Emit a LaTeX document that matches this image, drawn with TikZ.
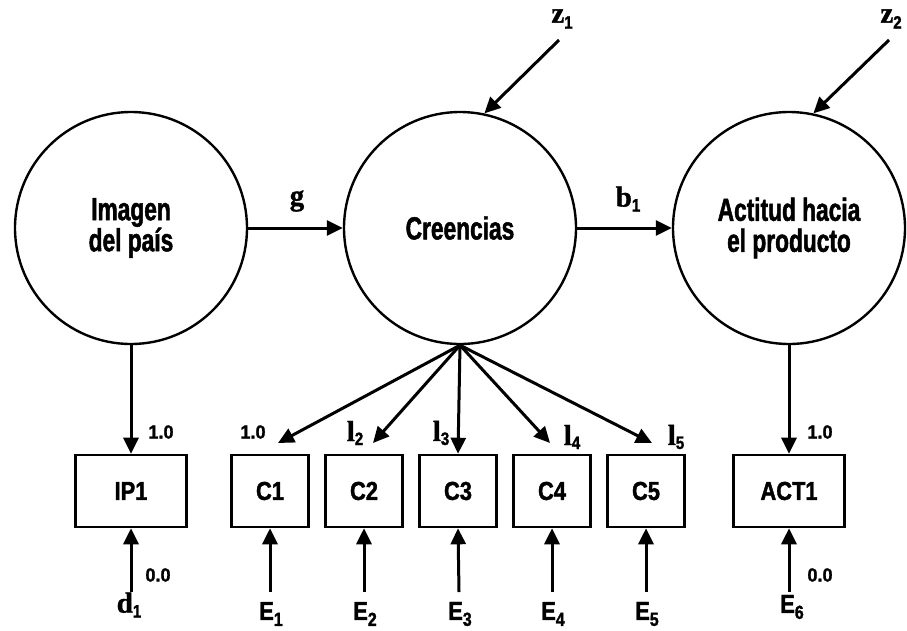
\documentclass[tikz,border=0pt]{standalone}
\usepackage{fontspec}
\setmainfont{Liberation Sans}[FakeStretch=0.84, FakeBold=1.5]
\newfontfamily\condsans{Liberation Sans}[FakeStretch=0.71, FakeBold=1.5]
\newfontfamily\numsans{Liberation Sans}[FakeStretch=0.95, FakeBold=1.2]
\newfontfamily\grk{Liberation Serif}[FakeBold=1.2]
\usetikzlibrary{arrows.meta}

% lowered index set in the condensed sans face
\newcommand\lowidx[3]{\raisebox{-#2pt}{\fontsize{#1}{#1}\rmfamily\bfseries #3}}

\tikzset{
  x=1pt, y=-1pt,
  latent/.style={circle, draw, line width=2.4pt, minimum size=232pt, inner sep=0pt,
                 align=center, font=\fontsize{32}{31}\condsans\bfseries},
  obs/.style={rectangle, draw, line width=2.6pt, minimum height=72pt, inner sep=0pt,
              font=\fontsize{26}{26}\selectfont\bfseries},
  path/.style={line width=3pt, -{Triangle[length=16pt,width=15pt]}},
  coef/.style={inner sep=0pt, font=\fontsize{19}{19}\numsans\bfseries},
  grklab/.style={inner sep=0pt, font=\fontsize{29}{29}\grk\bfseries},
  errlab/.style={inner sep=0pt, font=\fontsize{26}{26}\selectfont\bfseries},
}

\begin{document}
\begin{tikzpicture}
\useasboundingbox (0,0) rectangle (907,630);

% latent constructs
\node[latent] (img) at (131,228) {Imagen\\del país};
\node[latent] (cre) at (460,228) {Creencias};
\node[latent] (act) at (789,228) {Actitud hacia\\el producto};

% indicators
\node[obs, minimum width=111pt] (ip1) at (131,491) {IP1};
\node[obs, minimum width=77pt] (c1) at (270,491) {C1};
\node[obs, minimum width=77pt] (c2) at (364,491) {C2};
\node[obs, minimum width=77pt] (c3) at (458,491) {C3};
\node[obs, minimum width=77pt] (c4) at (552,491) {C4};
\node[obs, minimum width=77pt] (c5) at (646,491) {C5};
\node[obs, minimum width=111pt] (act1) at (789,491) {ACT1};

% structural paths
\draw[path] (img.east) -- (cre.west);
\draw[path] (cre.east) -- (act.west);
\node[grklab] (gam) at (297,201) {g};
\node[grklab] (bet) at (628,199) {b\lowidx{18}{5}{1}};

% disturbances
\coordinate (zt1) at (559,40);
\coordinate (zt2) at (889,40);
\draw[path] (zt1) -- (cre.78);
\draw[path] (zt2) -- (act.78);
\node[grklab] (z1) at (562,19) {z\lowidx{18}{6}{1}};
\node[grklab] (z2) at (891,19) {z\lowidx{18}{6}{2}};

% single-indicator loadings
\draw[path] (img.south) -- (ip1.north);
\draw[path] (act.south) -- (act1.north);
\node[coef] (lip) at (161,432) {1.0};
\node[coef] (lact) at (820,432) {1.0};

% loadings of Creencias
\coordinate (t1) at (278,443);
\coordinate (t2) at (373,443);
\coordinate (t4) at (550,443);
\coordinate (t5) at (652,443);
\draw[path] (cre.south) -- (t1);
\draw[path] (cre.south) -- (t2);
\draw[path] (cre.south) -- (c3.north);
\draw[path] (cre.south) -- (t4);
\draw[path] (cre.south) -- (t5);
\node[coef] (l1) at (253,432) {1.0};
\node[grklab] (l2) at (355,433) {l\lowidx{18}{4}{2}};
\node[grklab] (l3) at (441,433) {l\lowidx{18}{4}{3}};
\node[grklab] (l4) at (572,437) {l\lowidx{18}{4}{4}};
\node[grklab] (l5) at (676,437) {l\lowidx{18}{4}{5}};

% measurement errors
\coordinate (ed) at (131,592);
\coordinate (e1b) at (270,592);
\coordinate (e2b) at (364,592);
\coordinate (e3b) at (459,592);
\coordinate (e4b) at (552,592);
\coordinate (e5b) at (646,592);
\coordinate (e6b) at (789,592);
\draw[path] (ed) -- (ip1.south);
\draw[path] (e1b) -- (c1.south);
\draw[path] (e2b) -- (c2.south);
\draw[path] (e3b) -- (c3.south);
\draw[path] (e4b) -- (c4.south);
\draw[path] (e5b) -- (c5.south);
\draw[path] (e6b) -- (act1.south);
\node[coef] (vip) at (158,575) {0.0};
\node[coef] (vact) at (820,575) {0.0};

\node[grklab] (d1) at (129,605) {d\lowidx{18}{5}{1}};
\node[errlab] (e1) at (271,614) {E\lowidx{19}{6}{1}};
\node[errlab] (e2) at (365,614) {E\lowidx{19}{6}{2}};
\node[errlab] (e3) at (460,614) {E\lowidx{19}{6}{3}};
\node[errlab] (e4) at (553,614) {E\lowidx{19}{6}{4}};
\node[errlab] (e5) at (647,614) {E\lowidx{19}{6}{5}};
\node[errlab] (e6) at (792,607) {E\lowidx{19}{6}{6}};
\end{tikzpicture}
\end{document}
